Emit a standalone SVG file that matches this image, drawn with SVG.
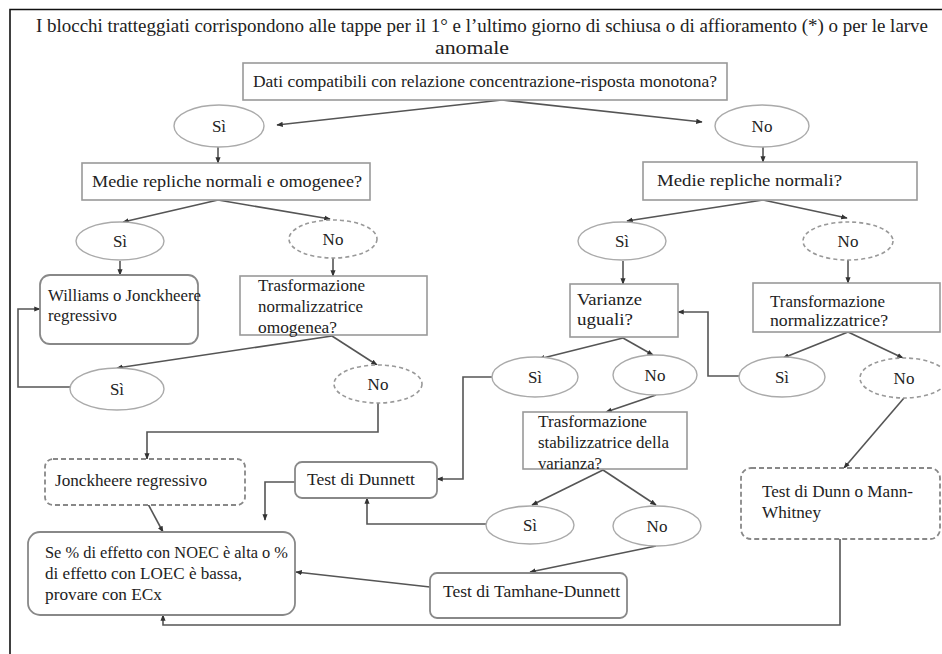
<svg xmlns="http://www.w3.org/2000/svg" width="942" height="654" viewBox="0 0 942 654">
<defs>
<style>
text{font-family:"Liberation Serif","DejaVu Serif",serif;font-size:17px;fill:#222}
.t{font-size:19px}
.c{text-anchor:middle}
.box{fill:#fff;stroke:#999;stroke-width:1.6}
.rbox{fill:#fff;stroke:#888;stroke-width:1.8}
.dbox{fill:#fff;stroke:#888;stroke-width:1.8;stroke-dasharray:5 3}
.el{fill:#fff;stroke:#aaa;stroke-width:1.4}
.del{fill:#fff;stroke:#999;stroke-width:1.6;stroke-dasharray:4 3}
.ln{fill:none;stroke:#555;stroke-width:1.6}
.fr{fill:none;stroke:#111;stroke-width:1.6}
</style>
<marker id="a" viewBox="0 0 10 10" refX="9" refY="5" markerWidth="4" markerHeight="4" orient="auto-start-reverse">
<path d="M0,1 L10,5 L0,9 z" fill="#333"/>
</marker>
</defs>
<rect width="942" height="654" fill="#fff"/>
<path class="fr" d="M10,654 V9.5 H942"/>
<g id="title">
<text class="t" x="36" y="32" textLength="892" lengthAdjust="spacingAndGlyphs">I blocchi tratteggiati corrispondono alle tappe per il 1° e l’ultimo giorno di schiusa o di affioramento (*) o per le larve</text>
<text class="t c" x="472" y="54" textLength="74" lengthAdjust="spacingAndGlyphs">anomale</text>
</g>
<g id="connectors">
<path class="ln" d="M502,100 L277,125" marker-end="url(#a)"/>
<path class="ln" d="M502,100 L702,122" marker-end="url(#a)"/>
<path class="ln" d="M218,147 V163" marker-end="url(#a)"/>
<path class="ln" d="M763,147 V162" marker-end="url(#a)"/>
<path class="ln" d="M218,200 L123,222" marker-end="url(#a)"/>
<path class="ln" d="M218,200 L330,219" marker-end="url(#a)"/>
<path class="ln" d="M120,261 V275" marker-end="url(#a)"/>
<path class="ln" d="M333,258 V276" marker-end="url(#a)"/>
<path class="ln" d="M332,336 L117,368" marker-end="url(#a)"/>
<path class="ln" d="M332,336 L377,365" marker-end="url(#a)"/>
<path class="ln" d="M71,387 H18 V309 H40" marker-end="url(#a)"/>
<path class="ln" d="M378,403 V432 H147 V459" marker-end="url(#a)"/>
<path class="ln" d="M148,504 L163,532" marker-end="url(#a)"/>
<path class="ln" d="M763,200 L627,221" marker-end="url(#a)"/>
<path class="ln" d="M763,200 L847,218" marker-end="url(#a)"/>
<path class="ln" d="M623,261 V284" marker-end="url(#a)"/>
<path class="ln" d="M848,260 V283" marker-end="url(#a)"/>
<path class="ln" d="M623,338 L539,359" marker-end="url(#a)"/>
<path class="ln" d="M623,338 L653,355" marker-end="url(#a)"/>
<path class="ln" d="M848,332 L783,358" marker-end="url(#a)"/>
<path class="ln" d="M848,332 L903,358" marker-end="url(#a)"/>
<path class="ln" d="M739,376 H708 V312 H678" marker-end="url(#a)"/>
<path class="ln" d="M492,377 H463 V479 H437" marker-end="url(#a)"/>
<path class="ln" d="M656,395 L606,412" marker-end="url(#a)"/>
<path class="ln" d="M603,470 L532,505" marker-end="url(#a)"/>
<path class="ln" d="M603,470 L656,505" marker-end="url(#a)"/>
<path class="ln" d="M295,482 H265 V520" marker-end="url(#a)"/>
<path class="ln" d="M487,524 H367 V498" marker-end="url(#a)"/>
<path class="ln" d="M656,546 L530,572" marker-end="url(#a)"/>
<path class="ln" d="M430,587 L296,572" marker-end="url(#a)"/>
<path class="ln" d="M904,398 L844,468" marker-end="url(#a)"/>
<path class="ln" d="M840,539 V625 H163 V615" marker-end="url(#a)"/>
</g>
<g id="n_dati">
<rect class="box" x="243" y="63" width="484" height="37"/>
<text x="253" y="87" textLength="464" lengthAdjust="spacingAndGlyphs">Dati compatibili con relazione concentrazione-risposta monotona?</text>
</g>
<g id="n_si1"><ellipse class="el" cx="219" cy="126" rx="45" ry="21"/><text class="c" x="219" y="132">Sì</text></g>
<g id="n_no1"><ellipse class="el" cx="762" cy="126" rx="47" ry="21"/><text class="c" x="762" y="132">No</text></g>
<g id="n_medie1">
<rect class="box" x="82" y="163" width="288" height="37"/>
<text x="92" y="187" textLength="270" lengthAdjust="spacingAndGlyphs">Medie repliche normali e omogenee?</text>
</g>
<g id="n_medie2">
<rect class="box" x="643" y="162" width="274" height="38"/>
<text x="657" y="186" textLength="185" lengthAdjust="spacingAndGlyphs">Medie repliche normali?</text>
</g>
<g id="n_si2"><ellipse class="el" cx="120" cy="241" rx="44" ry="19"/><text class="c" x="120" y="247">Sì</text></g>
<g id="n_no2"><ellipse class="del" cx="333" cy="239" rx="44" ry="19"/><text class="c" x="333" y="245">No</text></g>
<g id="n_williams">
<rect class="rbox" x="40" y="275" width="158" height="69" rx="10"/>
<text x="48" y="301" textLength="153" lengthAdjust="spacingAndGlyphs">Williams o Jonckheere</text>
<text x="48" y="321" textLength="69" lengthAdjust="spacingAndGlyphs">regressivo</text>
</g>
<g id="n_trasf1">
<rect class="box" x="240" y="276" width="187" height="59"/>
<text x="258" y="291" textLength="107" lengthAdjust="spacingAndGlyphs">Trasformazione</text>
<text x="258" y="312" textLength="105" lengthAdjust="spacingAndGlyphs">normalizzatrice</text>
<text x="258" y="333" textLength="79" lengthAdjust="spacingAndGlyphs">omogenea?</text>
</g>
<g id="n_si3"><ellipse class="el" cx="117" cy="389" rx="47" ry="21"/><text class="c" x="117" y="395">Sì</text></g>
<g id="n_no3"><ellipse class="del" cx="378" cy="384" rx="44" ry="19"/><text class="c" x="378" y="390">No</text></g>
<g id="n_jonck">
<rect class="dbox" x="45" y="459" width="200" height="46" rx="8"/>
<text x="55" y="486" textLength="152" lengthAdjust="spacingAndGlyphs">Jonckheere regressivo</text>
</g>
<g id="n_ecx">
<rect class="rbox" x="28" y="532" width="267" height="83" rx="12"/>
<text x="45" y="558" textLength="243" lengthAdjust="spacingAndGlyphs">Se % di effetto con NOEC è alta o %</text>
<text x="45" y="579" textLength="197" lengthAdjust="spacingAndGlyphs">di effetto con LOEC è bassa,</text>
<text x="45" y="600" textLength="117" lengthAdjust="spacingAndGlyphs">provare con ECx</text>
</g>
<g id="n_si4"><ellipse class="el" cx="622" cy="241" rx="44" ry="19"/><text class="c" x="622" y="247">Sì</text></g>
<g id="n_no4"><ellipse class="del" cx="848" cy="241" rx="45" ry="19"/><text class="c" x="848" y="247">No</text></g>
<g id="n_varianze">
<rect class="box" x="570" y="284" width="108" height="53"/>
<text x="577" y="305" textLength="65" lengthAdjust="spacingAndGlyphs">Varianze</text>
<text x="577" y="325" textLength="56" lengthAdjust="spacingAndGlyphs">uguali?</text>
</g>
<g id="n_transf2">
<rect class="box" x="753" y="283" width="187" height="49"/>
<text x="770" y="307" textLength="115" lengthAdjust="spacingAndGlyphs">Transformazione</text>
<text x="770" y="326" textLength="118" lengthAdjust="spacingAndGlyphs">normalizzatrice?</text>
</g>
<g id="n_si5"><ellipse class="el" cx="535" cy="377" rx="43" ry="20"/><text class="c" x="535" y="383">Sì</text></g>
<g id="n_no5"><ellipse class="el" cx="655" cy="375" rx="42" ry="20"/><text class="c" x="655" y="381">No</text></g>
<g id="n_si6"><ellipse class="el" cx="782" cy="377" rx="43" ry="20"/><text class="c" x="782" y="383">Sì</text></g>
<g id="n_no6"><ellipse class="del" cx="904" cy="378" rx="44" ry="20"/><text class="c" x="904" y="384">No</text></g>
<g id="n_stab">
<rect class="box" x="523" y="412" width="164" height="57"/>
<text x="538" y="427" textLength="109" lengthAdjust="spacingAndGlyphs">Trasformazione</text>
<text x="538" y="448" textLength="131" lengthAdjust="spacingAndGlyphs">stabilizzatrice della</text>
<text x="538" y="469" textLength="64" lengthAdjust="spacingAndGlyphs">varianza?</text>
</g>
<g id="n_dunnett">
<rect class="rbox" x="295" y="462" width="142" height="36" rx="7"/>
<text x="307" y="485" textLength="108" lengthAdjust="spacingAndGlyphs">Test di Dunnett</text>
</g>
<g id="n_si7"><ellipse class="el" cx="530" cy="525" rx="44" ry="19"/><text class="c" x="530" y="531">Sì</text></g>
<g id="n_no7"><ellipse class="el" cx="657" cy="526" rx="44" ry="20"/><text class="c" x="657" y="532">No</text></g>
<g id="n_tamhane">
<rect class="rbox" x="430" y="573" width="197" height="45" rx="7"/>
<text x="443" y="597" textLength="177" lengthAdjust="spacingAndGlyphs">Test di Tamhane-Dunnett</text>
</g>
<g id="n_dunn">
<rect class="dbox" x="741" y="468" width="199" height="71" rx="10"/>
<text x="762" y="497" textLength="151" lengthAdjust="spacingAndGlyphs">Test di Dunn o Mann-</text>
<text x="762" y="518" textLength="59" lengthAdjust="spacingAndGlyphs">Whitney</text>
</g>
</svg>
